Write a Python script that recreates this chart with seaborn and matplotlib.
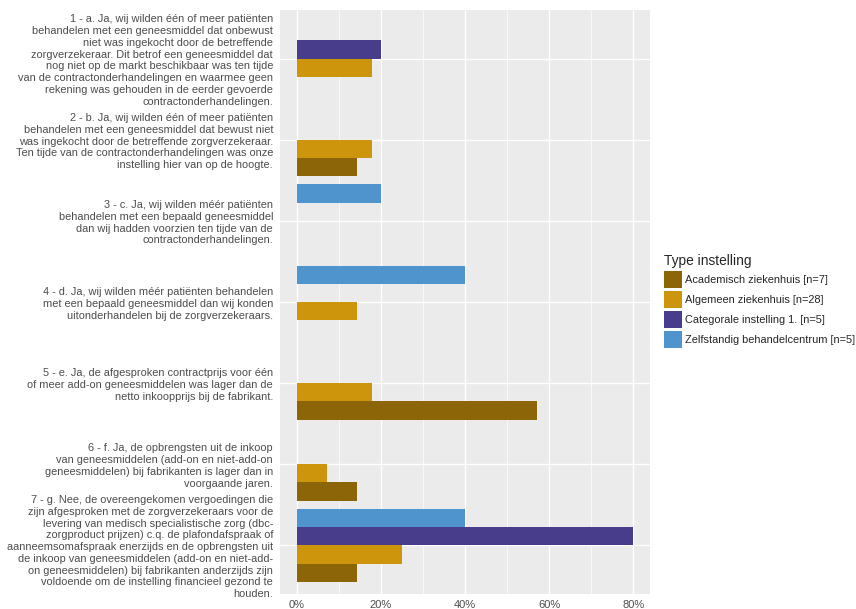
#!/usr/bin/env python
# coding: utf-8

"""
Staafdiagram: redenen voor overschrijding, per type instelling
"""

import pandas as pd
import seaborn as sns
import matplotlib.pyplot as plt
from matplotlib.ticker import MultipleLocator

# categorieën (antwoorden), met de regelafbreking zoals in het origineel
vragen = [
    "1 - a. Ja, wij wilden één of meer patiënten\nbehandelen met een geneesmiddel dat onbewust\n"
    "niet was ingekocht door de betreffende\nzorgverzekeraar. Dit betrof een geneesmiddel dat\n"
    "nog niet op de markt beschikbaar was ten tijde\nvan de contractonderhandelingen en waarmee geen\n"
    "rekening was gehouden in de eerder gevoerde\ncontractonderhandelingen.",
    "2 - b. Ja, wij wilden één of meer patiënten\nbehandelen met een geneesmiddel dat bewust niet\n"
    "was ingekocht door de betreffende zorgverzekeraar.\nTen tijde van de contractonderhandelingen was onze\n"
    "instelling hier van op de hoogte.",
    "3 - c. Ja, wij wilden méér patiënten\nbehandelen met een bepaald geneesmiddel\n"
    "dan wij hadden voorzien ten tijde van de\ncontractonderhandelingen.",
    "4 - d. Ja, wij wilden méér patiënten behandelen\nmet een bepaald geneesmiddel dan wij konden\n"
    "uitonderhandelen bij de zorgverzekeraars.",
    "5 - e. Ja, de afgesproken contractprijs voor één\nof meer add-on geneesmiddelen was lager dan de\n"
    "netto inkoopprijs bij de fabrikant.",
    "6 - f. Ja, de opbrengsten uit de inkoop\nvan geneesmiddelen (add-on en niet-add-on\n"
    "geneesmiddelen) bij fabrikanten is lager dan in\nvoorgaande jaren.",
    "7 - g. Nee, de overeengekomen vergoedingen die\nzijn afgesproken met de zorgverzekeraars voor de\n"
    "levering van medisch specialistische zorg (dbc-\nzorgproduct prijzen) c.q. de plafondafspraak of\n"
    "aanneemsomafspraak enerzijds en de opbrengsten uit\nde inkoop van geneesmiddelen (add-on en niet-add-\n"
    "on geneesmiddelen) bij fabrikanten anderzijds zijn\nvoldoende om de instelling financieel gezond te\n"
    "houden.",
]

types = [
    "Academisch ziekenhuis [n=7]",
    "Algemeen ziekenhuis [n=28]",
    "Categorale instelling 1. [n=5]",
    "Zelfstandig behandelcentrum [n=5]",
]

# percentages per type, in volgorde van de vragen
academisch = [0, 14.29, 0, 0, 57.14, 14.29, 14.29]
algemeen = [17.86, 17.86, 0, 14.29, 17.86, 7.14, 25.0]
categoraal = [20.0, 0, 0, 0, 0, 0, 80.0]
zelfstandig = [0, 0, 20.0, 40.0, 0, 0, 40.0]

kleuren = ["#8B6508", "#CD950C", "#483D8B", "#4F94CD"]

# long format voor seaborn
rijen = []
for t, waarden in zip(types, [academisch, algemeen, categoraal, zelfstandig]):
    for v, w in zip(vragen, waarden):
        rijen.append({"vraag": v, "type": t, "pct": w})
df = pd.DataFrame(rijen)

sns.set_theme(style="darkgrid", rc={
    "axes.facecolor": "#EBEBEB",
    "grid.color": "white",
})
plt.rcParams["font.family"] = ["Liberation Sans", "DejaVu Sans"]

fig = plt.figure(figsize=(8.56, 6.09), dpi=100)
ax = fig.add_axes([280 / 856, 1 - 594 / 609, 370 / 856, 584 / 609])

# omgekeerde hue-volgorde zodat 'Academisch' onderaan binnen elke groep staat
sns.barplot(data=df, x="pct", y="vraag", hue="type", order=vragen,
            hue_order=types[::-1], palette=kleuren[::-1], width=0.9, gap=0,
            saturation=1, orient="h", ax=ax, linewidth=0)

ax.set_xlim(-4, 84)
ax.set_ylim(6.6, -0.6)
ax.xaxis.set_minor_locator(MultipleLocator(10))
ax.set_xticks([0, 20, 40, 60, 80])
ax.set_xticklabels(["0%", "20%", "40%", "60%", "80%"])
ax.grid(True, which="major", color="white", linewidth=1.0)
ax.grid(True, which="minor", axis="x", color="white", linewidth=0.5)
ax.set_axisbelow(True)
for s in ax.spines.values():
    s.set_visible(False)

ax.tick_params(axis="both", which="major", length=3, width=0.8, color="#4D4D4D",
               labelcolor="#4D4D4D", labelsize=7.9, pad=2)
ax.tick_params(axis="x", which="major", pad=1.5, labelsize=8)
ax.tick_params(axis="both", which="minor", length=0)
for lab in ax.get_yticklabels():
    lab.set_linespacing(1.22)
ax.set_xlabel("")
ax.set_ylabel("")

# legende in de volgorde van ggplot
handles, labels = ax.get_legend_handles_labels()
ax.get_legend().remove()
leg = fig.legend(handles[::-1], labels[::-1], title="Type instelling",
                 loc="upper left", bbox_to_anchor=(664 / 856, 1 - 254 / 609),
                 frameon=False, fontsize=7.9, title_fontsize=9.9,
                 handlelength=1.6, handleheight=1.95, labelspacing=0.3,
                 handletextpad=0.3, borderaxespad=0, borderpad=0)
leg._legend_box.align = "left"

fig.savefig("out.png", dpi=100)
